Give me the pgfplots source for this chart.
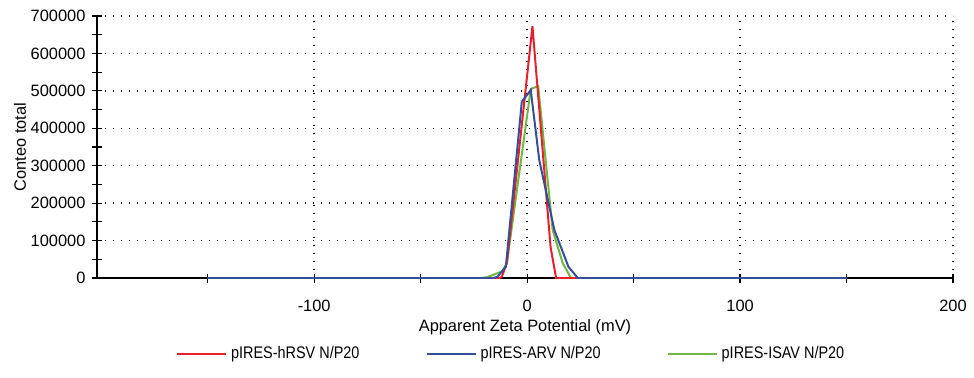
\documentclass[border=0pt]{standalone}
\usepackage{pgfplots}
\pgfplotsset{compat=1.18}
\usepackage{fontspec}
\setmainfont{Liberation Sans}
\newfontfamily\legfont[FakeStretch=0.86]{Liberation Sans}
\definecolor{cred}{RGB}{228,32,45}
\definecolor{cblue}{RGB}{52,78,152}
\definecolor{cgreen}{RGB}{112,182,64}
\begin{document}
\begin{tikzpicture}[font=\fontsize{8.2pt}{10pt}\selectfont]
\begin{axis}[
  scale only axis, width=428pt, height=131pt,
  xmin=-202, xmax=200, ymin=0, ymax=700000,
  axis x line=bottom, axis y line=left,
  axis line style={-, line width=0.7pt},
  xtick={-100,0,100,200}, minor xtick={-150,-50,50,150},
  ytick={0,100000,...,700000}, minor ytick={50000,150000,...,650000},
  tick align=center, major tick length=4.5pt, minor tick length=4.5pt,
  every tick/.style={black, line width=0.6pt},
  scaled y ticks=false,
  /pgf/number format/.cd, 1000 sep={}, fixed, assume math mode=true,
  /pgfplots/.cd,
  grid=major, major grid style={black, line width=0.7pt, dash pattern=on 0.7pt off 3.3pt},
  x tick label style={anchor=north, yshift=-5pt},
  xlabel={Apparent Zeta Potential (mV)},
  ylabel={Conteo total},
  xlabel style={at={(axis description cs:0.5,-0.187)}, anchor=center},
  ylabel style={at={(axis description cs:-0.09,0.5)}, anchor=center},
  legend columns=3,
  legend style={draw=none, at={(0.485,-0.29)}, anchor=center,
    font=\legfont\fontsize{8.4pt}{10pt}\selectfont,
    /tikz/every even column/.append style={column sep=31pt}},
  legend image code/.code={\draw[#1] (0pt,0pt) -- (24.5pt,0pt);},
  legend cell align=left,
  every axis plot/.append style={line width=1pt},
]
\addlegendimage{cred, line width=1pt}\addlegendentry{pIRES-hRSV N/P20}
\addlegendimage{cblue, line width=1pt}\addlegendentry{pIRES-ARV N/P20}
\addlegendimage{cgreen, line width=1pt}\addlegendentry{pIRES-ISAV N/P20}
\addplot[cgreen, forget plot] coordinates {(-150,0) (-22,0) (-18.8,2000) (-11.7,18000) (-9.5,40000) (1.7,505000) (5.2,513000) (12,128000) (16.7,40000) (20.6,0) (150,0)};
\addplot[cred, forget plot] coordinates {(-150,0) (-13,0) (-12,2000) (-9.5,40000) (2.5,673000) (11,83000) (13.6,0) (150,0)};
\addplot[cblue, forget plot] coordinates {(-150,0) (-16,0) (-14,3000) (-10,30000) (-2.5,471000) (1.7,502000) (5.7,315000) (12.8,128000) (19.4,30000) (23.8,0) (150,0)};
\coordinate (ll) at (rel axis cs:0,0);
\end{axis}
\pgfresetboundingbox
\path (ll) ++(-48.5pt,-49.5pt) rectangle ++(487pt,188.5pt);
\end{tikzpicture}
\end{document}
